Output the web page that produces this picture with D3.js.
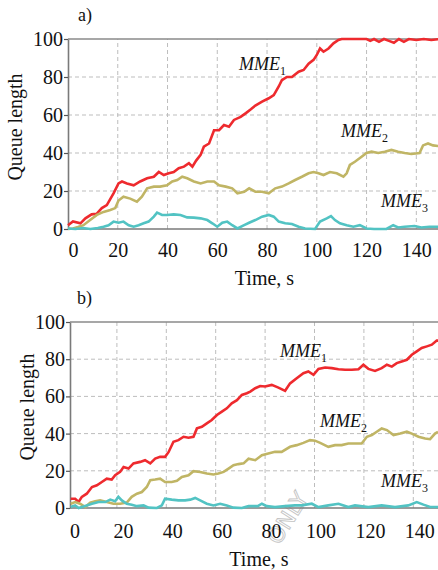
<!DOCTYPE html>
<html><head><meta charset="utf-8">
<script src="https://cdn.jsdelivr.net/npm/d3@7"></script>
<style>
html,body{margin:0;padding:0;background:#fff;}
svg{display:block;}
text.serif{font-family:"Liberation Serif","Times New Roman",serif;fill:#111;}
.tick text{font-family:"Liberation Serif","Times New Roman",serif;fill:#111;}
</style></head>
<body><svg id="chart" width="438" height="570"></svg>
<script>
// ---------- DATA ----------
const xTicks = [0, 20, 40, 60, 80, 100, 120, 140];
const yTicks = [0, 20, 40, 60, 80, 100];
const seriesNames = ["MME1", "MME2", "MME3"];

// Panel a)
const tA1 = [0,2,5,7,9.5,11.5,13.6,15.6,18.3,20.3,21.7,23.7,26.4,29,31.8,34.5,36.5,38.5,40.5,42.5,44.5,46.6,48.6,50,51.5,53.3,54.6,56.7,58.7,60.7,62.7,64.7,66.7,69.4,71.5,73.5,75.3,78,80.7,82.7,84.7,86,88,90,92.7,94.7,96.7,98.7,100,101.3,102.7,104.7,106.7,108.7,110,115,120,121.5,123,125,127,129,131,133,135,137,140,143,146,150];
const vA1 = [2,4,3,5.6,7.7,8,11,12.6,18.8,24,25,24,23,25,26.7,27.5,30,28.4,29.3,30,32,32.8,34.6,32.8,36,39,43.3,45,52,52,54.7,53.8,57.4,59,61,63,65,67,68.8,70.5,75,78.4,80,80,82.8,83.7,87,89,91.6,95,93.3,95,97.7,99.5,100,100,100,99,100,98.5,100,99,98,100,98.5,100,99.5,100,99.5,100];
const tA2 = [0,2,4,6.2,8.9,11.6,14.3,17,19,20.3,22.3,25,27.7,29.7,31.8,34.5,37,39.8,41.9,43.9,45.9,47.9,50.6,53.3,56,58.7,60.7,63.4,66,68.1,70.8,72.8,75.3,78,80.7,83.3,86,88.7,91.3,94,96.7,98.7,100.7,102.7,105.3,108,110.7,112,113.3,115.3,118,120,122,124.7,127.3,130,132.7,135.3,138,141.3,142.7,144.7,146.7,148.7,150];
const vA2 = [0,0.3,1,2,4.7,7.4,9,10,11,15,17,16,14.4,17,21.4,22.3,22.3,23,25,25.8,27.5,26.7,25,24,25,25,23,22.3,21.4,18.8,19.6,21.4,19.6,19.6,18.8,21.4,22.3,24,25.8,27.5,29.3,30,29.3,28.4,30,29.3,27.5,29.3,33.7,35.4,38,40,40.7,40,40.7,41.6,40.7,40,39.5,40,44,45,44,43.7,43.7];
const tA3 = [0,3,6,9,12,14.3,16.3,18.3,20.3,22.3,24.4,26.4,28.4,30.4,32.4,34.5,35.8,37.8,39.8,42.5,45.2,47.9,50.6,53.3,56,58,60,62,64,66,68.1,70.8,72.8,75.3,78,80.7,82.7,84.7,87.3,90,92.7,95.3,99.3,101.3,104,105.7,107.3,109.3,112,114.7,117.3,120,123,128,130.7,132.7,135.3,139.3,142,145.3,150];
const vA3 = [0.3,0,0.5,0,0.5,1.2,2,3.9,3.3,3.9,2,1.2,2,3,3.9,6.5,8.6,7.4,7.4,7.7,7.4,6.1,6,5.6,4.7,3,1.2,3.3,3.9,2,0.3,2,3.3,4.7,6.5,7.4,6.5,3.9,3,2.6,1.2,0.3,0,3.9,5.6,6.8,4.7,3,2,1.2,2,0.3,0,0,2,0.8,1.2,1.6,0.8,1.2,1.2];

// Panel b)
const tB1 = [1.3,3.1,4.5,5.8,7.8,9.9,11.9,13.9,15.9,17.9,19.3,21.3,22.7,24.7,26.7,29.4,31.4,33.5,35.5,37.5,39.5,40.9,42.9,44.9,47,49,51,52.4,54.4,56.4,58.4,60.5,62.5,64.5,66.5,68.6,70.6,72.6,74,76,78,80,82.7,85.4,88.1,90.1,92.8,95.5,97.5,99.6,101.6,104.3,107,109.7,112.4,115.1,117.8,119.8,121.8,124.5,127.2,129.3,131.3,133.3,135.3,137.4,139.4,141.4,143.4,145.5,147.5,149.5,150];
const vB1 = [5,5,3.2,6,7.7,11.3,12.2,14,15.8,15.3,17.6,19.4,22,21.2,24,24.8,25.7,24,26.6,27.5,27.5,30,35.6,36.5,38.3,37.8,38.3,42.8,43.7,45.5,47.3,50,51.8,53.6,56.3,58,60.8,61.7,62.6,64.4,65.6,65.3,66.2,64.7,63,67,69.8,72.5,73.4,71.6,74.8,75.5,75.2,74.6,74.3,74.3,74.6,77,74.8,73.7,75.2,77,76,77.9,78.8,79.7,82.4,84.2,86,86.9,87.8,90,90];
const tB2 = [1.3,3.1,5.1,7.2,9.2,11.2,13.2,15.9,18.6,21.3,24,26,28.1,30.1,32.1,33.5,35.5,37.5,39.5,42.2,44.3,46.3,49,51,53.7,56.4,59.1,61.1,63.2,65.2,67.2,69.2,71.3,73.3,76,78.7,81.3,84,86.7,90.1,92.8,95.5,98.2,100.2,102.3,105.6,108.3,111,113.7,116.4,119.1,121.2,123.2,125.2,127.2,129.3,132,134.7,137.4,139.4,142.1,144.8,146.8,148.8,150];
const vB2 = [2.3,3.2,2.3,0.5,2.9,3.6,4.1,3.2,2.3,2.3,2.9,6,7.7,8.6,11.3,15,15.3,15.8,14,14,14.6,16.7,17.6,19.8,19.4,18.5,18,18.5,19.4,21.2,23,23.6,24,26.5,25.7,28.4,29.3,30.2,30.2,32.9,33.8,35,36.5,36.2,35,32.9,33.8,33.8,34.7,34.7,34.7,38.3,39.2,41,42.8,41.9,39.2,40,41,40,38.3,37.4,37,40,41];
const tB3 = [1.3,3.1,4.5,7.8,9.9,12.6,15.3,17.3,19.3,20.6,22,24,26,28.1,30.8,32.8,36.2,38.2,39.5,42.2,44.9,47.6,49.7,51.7,53.7,56.4,59.1,61.8,64.5,67.2,70.6,73.3,77,78.7,80.7,84,88.1,92.1,94.8,98.9,101.6,105.6,109.7,113.7,116.4,121.8,127.2,132.6,138,141.4,144.1,146.8,150];
const vB3 = [0.5,1.4,0,1.4,2.3,3.2,3.2,4.5,3.6,6,4.1,2.3,1.8,1,1.4,0.2,0,1.4,5,4.5,4.1,4.1,4.5,5.4,4.1,2.3,1.4,2.3,1.4,0.2,0,1,1,2.3,1,0.5,1,1.4,1.4,2.3,0.5,1.4,2.3,0.5,1.4,0.5,1.4,0.5,1.4,3.2,1.8,0.5,0.5];

// ---------- LAYOUT / STYLE ----------
const colors = ["#ee2a2e", "#c0b565", "#52c3c3"];
const panels = [
  { tag: "a)", tagX: 78, tagY: 21,
    xRange: [68, 441.2], yRange: [229, 39], axisX: 68,
    xPad: 13.3, xDx: [5,0,0,0,0,0,0,0],
    yLabelX: 21.5, yLabelY: 127, xLabelX: 264.5, xLabelY: 285,
    series: [[tA1, vA1], [tA2, vA2], [tA3, vA3]],
    labels: [[239, 70], [341, 136.5], [381, 206.5]] },
  { tag: "b)", tagX: 77, tagY: 304,
    xRange: [67.5, 438], yRange: [508, 322], axisX: 70,
    xPad: 15.8, xDx: [7,6,6,6,6,6,6,6],
    yLabelX: 33.5, yLabelY: 407, xLabelX: 259, xLabelY: 566,
    series: [[tB1, vB1], [tB2, vB2], [tB3, vB3]],
    labels: [[280, 356.5], [320, 427], [381, 487]] }
];

const svg = d3.select("#chart");

// faint watermark (behind everything)
svg.append("text").attr("transform", "translate(279,546) rotate(-58)")
  .style("font-family", "'DejaVu Sans', sans-serif").style("font-size", "22px")
  .style("fill", "none").style("stroke", "#c4c4c4").style("stroke-width", "0.9")
  .text("ONLY");

panels.forEach(p => {
  const x = d3.scaleLinear().domain([0, 150]).range(p.xRange);
  const y = d3.scaleLinear().domain([0, 100]).range(p.yRange);
  const g = svg.append("g");
  const right = 438;

  // grid
  g.selectAll(".vg").data(xTicks.filter(d => d > 0)).join("line")
    .attr("x1", d => x(d)).attr("x2", d => x(d))
    .attr("y1", y(0)).attr("y2", y(100))
    .attr("stroke", "#bdbdbd").attr("stroke-width", 1).attr("stroke-dasharray", "4,3");
  g.selectAll(".hg").data(yTicks.filter(d => d > 0 && d < 100)).join("line")
    .attr("x1", p.axisX).attr("x2", right)
    .attr("y1", d => y(d)).attr("y2", d => y(d))
    .attr("stroke", "#bdbdbd").attr("stroke-width", 1).attr("stroke-dasharray", "4,3");

  // top border
  g.append("line").attr("x1", p.axisX).attr("x2", right)
    .attr("y1", y(100)).attr("y2", y(100))
    .attr("stroke", "#8a8a8a").attr("stroke-width", 1.6);

  // x axis
  const xa = g.append("g").attr("transform", `translate(0,${y(0)})`)
    .call(d3.axisBottom(x).tickValues(xTicks).tickSize(0).tickPadding(p.xPad).tickSizeOuter(0));
  xa.select(".domain").attr("stroke", "#7a7a7a").attr("stroke-width", 1.6)
    .attr("d", `M${p.axisX},0H${right}`);
  xa.selectAll(".tick text").attr("font-size", 20).attr("dx", (d, i) => p.xDx[i]);

  // y axis
  const ya = g.append("g").attr("transform", `translate(${p.axisX},0)`)
    .call(d3.axisLeft(y).tickValues(yTicks).tickSize(4).tickPadding(1).tickSizeOuter(0));
  ya.select(".domain").attr("stroke", "#7a7a7a").attr("stroke-width", 1.6);
  ya.selectAll(".tick line").attr("stroke", "#555").attr("stroke-width", 1.2);
  ya.selectAll(".tick text").attr("font-size", 20);

  // lines
  const line = d3.line().x(d => x(d[0])).y(d => y(d[1])).curve(d3.curveLinear);
  p.series.forEach((s, i) => {
    const pts = s[0].map((t, k) => [t, s[1][k]]);
    g.append("path").datum(pts).attr("d", line)
      .attr("fill", "none").attr("stroke", colors[i])
      .attr("stroke-width", 2.6).attr("stroke-linejoin", "miter");
  });

  // series labels
  p.labels.forEach((pos, i) => {
    const t = g.append("text").attr("class", "serif").attr("x", pos[0]).attr("y", pos[1])
      .attr("font-size", 18).attr("font-style", "italic");
    t.append("tspan").text(seriesNames[i].slice(0, 3));
    t.append("tspan").text(seriesNames[i].slice(3)).attr("font-size", 12)
      .attr("font-style", "normal").attr("dy", 5);
  });

  // axis titles
  g.append("text").attr("class", "serif").attr("transform", `translate(${p.yLabelX},${p.yLabelY}) rotate(-90)`)
    .attr("text-anchor", "middle").attr("font-size", 20).text("Queue length");
  g.append("text").attr("class", "serif").attr("x", p.xLabelX).attr("y", p.xLabelY)
    .attr("text-anchor", "middle").attr("font-size", 20).text("Time, s");

  // panel tag
  g.append("text").attr("class", "serif").attr("x", p.tagX).attr("y", p.tagY).attr("font-size", 18).text(p.tag);
});
</script></body></html>
